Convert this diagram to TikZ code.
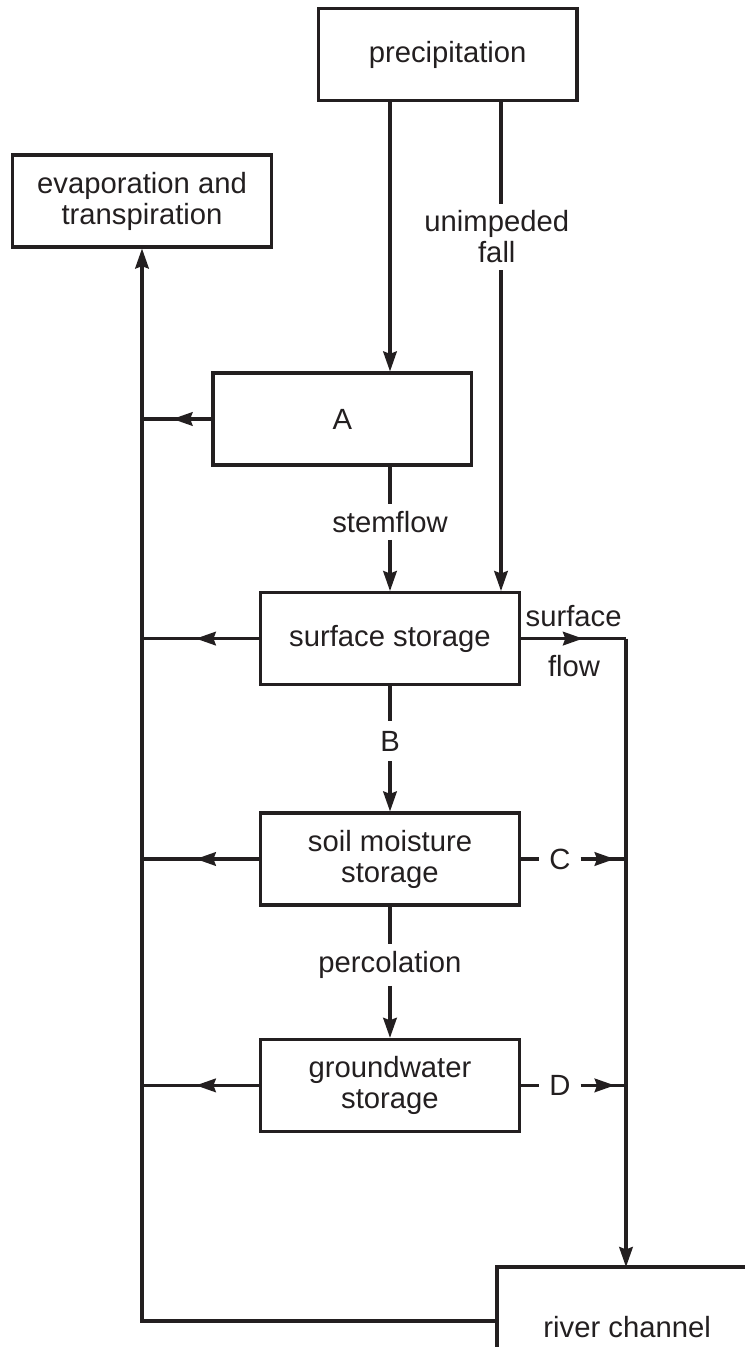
\documentclass[tikz,border=0pt]{standalone}
\usepackage{fontspec}
\setmainfont{Liberation Sans}
\usetikzlibrary{arrows.meta,decorations.markings}
\definecolor{ink}{HTML}{231F20}

\begin{document}
\begin{tikzpicture}[
    line width=2.2pt, color=ink,
    >={Stealth[length=5mm,width=3.4mm,inset=0.6mm]},
    box/.style={draw, minimum width=6.47cm, minimum height=2.3cm, align=center,
      font=\fontsize{20.8}{22}\selectfont, text=ink, inner sep=2pt},
    lab/.style={font=\fontsize{20.8}{22}\selectfont, text=ink, align=center, inner sep=4pt},
    letter/.style={lab, inner sep=6pt},
    mid arrow/.style={postaction={decorate},
      decoration={markings, mark=at position #1 with {\arrow{>}}}}]
  % fixed canvas
  \path[use as bounding box] (0,0) rectangle (18.625,33.675);

  % ================= stores =================
  \node[box] (precip) at (11.19,32.31) {precipitation};
  \node[box] (evap) at (3.55,28.65) {evaporation and\\transpiration};
  \node[box] (A) at (8.56,23.2) {A};
  \node[box] (surf) at (9.75,17.71) {surface storage};
  \node[box] (soil) at (9.75,12.2) {soil moisture\\storage};
  \node[box] (ground) at (9.75,6.54) {groundwater\\storage};

  % river channel: box open to the right and below
  \coordinate (rivercorner) at (12.425,2.0);
  \coordinate (riverwest) at (12.425,0.65);
  \draw (12.425,0) -- (rivercorner) -- (18.625,2.0);
  \node[lab] (river) at (15.68,0.5) {river channel};

  % ================= vertical transfers =================
  \draw[->] (precip.south -| surf.north) -- (A.north -| surf.north);
  \node[lab] (stem) at (9.75,20.625) {stemflow};
  \draw (A.south -| surf.north) -- (stem.north);
  \draw[->] (stem.south) -- (surf.north);

  \coordinate (fallx) at (12.525,0);
  \node[lab] (fall) at (12.42,27.75) {unimpeded\\fall};
  \draw (precip.south -| fallx) -- (fall.north -| fallx);
  \draw[->] (fall.south -| fallx) -- (surf.north -| fallx);

  \node[letter] (B) at (9.75,15.15) {B};
  \draw (surf.south) -- (B.north);
  \draw[->] (B.south) -- (soil.north);

  \node[lab] (perc) at (9.75,9.55) {percolation};
  \draw (soil.south) -- (perc.north);
  \draw[->] (perc.south) -- (ground.north);

  % ================= evaporation return line =================
  \coordinate (evapfoot) at (3.55,0.65);
  \draw[->] (riverwest) -- (evapfoot) -- (evap.south);
  \draw[mid arrow=0.56] (A.west) -- (A.west -| evapfoot);
  \foreach \store in {surf, soil, ground} {
    \draw[mid arrow=0.54] (\store.west) -- (\store.west -| evapfoot);
  }

  % ================= runoff to the river =================
  \coordinate (sfturn) at (15.65,17.71);
  \coordinate (riverin) at (15.65,2.0);
  \draw[mid arrow=0.59] (surf.east) -- (sfturn);
  \draw[->] (sfturn) -- (riverin);
  \node[lab] (sftop) at (14.34,18.275) {surface};
  \node[lab] (sfbot) at (14.35,17.025) {flow};

  \node[letter] (C) at (14.0,12.2) {C};
  \draw (soil.east) -- (C.west);
  \draw[mid arrow=0.75] (C.east) -- (C.east -| sfturn);

  \node[letter] (D) at (14.0,6.54) {D};
  \draw (ground.east) -- (D.west);
  \draw[mid arrow=0.75] (D.east) -- (D.east -| sfturn);
\end{tikzpicture}
\end{document}
